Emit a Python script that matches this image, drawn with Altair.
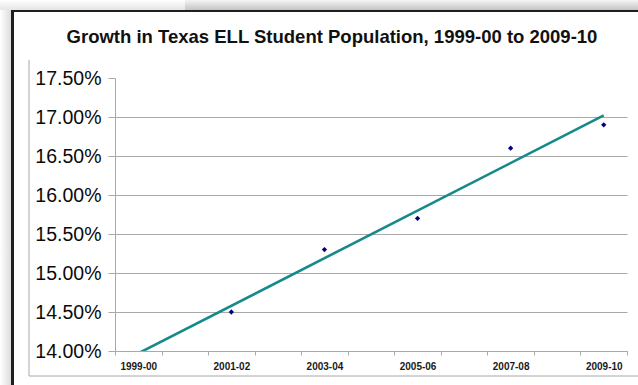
import json
import altair as alt
import pandas as pd

# School years on the category axis
years = ["1999-00", "2000-01", "2001-02", "2002-03", "2003-04", "2004-05",
         "2005-06", "2006-07", "2007-08", "2008-09", "2009-10"]
# Years with a reported ELL share of enrolment
obs_years = ["2001-02", "2003-04", "2005-06", "2007-08", "2009-10"]
ell_share = [0.1450, 0.1530, 0.1570, 0.1660, 0.1690]
# Y axis ticks
y_ticks = [0.14, 0.145, 0.15, 0.155, 0.16, 0.165, 0.17, 0.175]
labelled_years = years[::2]
title_text = "Growth in Texas ELL Student Population, 1999-00 to 2009-10"

df = pd.DataFrame({"year": obs_years, "share": ell_share})

FONT = "Liberation Sans"
GRID = "#a9a9a9"
TEAL = "#16898a"

x_band = alt.X(
    "year:N",
    scale=alt.Scale(type="band", domain=years, paddingInner=0, paddingOuter=0),
    axis=alt.Axis(
        title=None, labelAngle=0, labelOverlap=False, tickBand="extent",
        labelExpr=f"indexof({json.dumps(labelled_years)}, datum.value) >= 0 ? datum.value : ''",
        labelFont=FONT, labelFontSize=10, labelFontWeight="bold", labelColor="#1a1a1a",
        labelPadding=6, tickSize=4, tickColor=GRID, domainColor=GRID, grid=False,
    ),
)

y_enc = alt.Y(
    "share:Q",
    scale=alt.Scale(domain=[0.14, 0.175], nice=False, zero=False),
    axis=alt.Axis(
        title=None, values=y_ticks, format=".2%",
        labelFont=FONT, labelFontSize=19.5, labelColor="#0a0a0a", labelPadding=7,
        tickSize=7, tickColor=GRID, domainColor=GRID,
        grid=True, gridColor=GRID,
        gridOpacity={"condition": {"test": "datum.value >= 0.175", "value": 0}, "value": 1},
    ),
)

points = alt.Chart(df).mark_point(
    shape="diamond", filled=True, size=28, color="#000080", opacity=1
).encode(x=x_band, y=y_enc)

# Least-squares trend over the school-year index, extended back to 1999-00
trend = (
    alt.Chart(df)
    .transform_calculate(t=f"indexof({json.dumps(years)}, datum.year)")
    .transform_regression("t", "share", extent=[0, 10])
    .mark_line(clip=True, color=TEAL, strokeWidth=2.6)
    .encode(
        x=alt.X("t:Q", scale=alt.Scale(domain=[-0.5, 10.5], nice=False, zero=False), axis=None),
        y=y_enc,
    )
)

one = alt.Data(values=[{}])


def grad(stops, horizontal=False):
    return alt.LinearGradient(
        gradient="linear",
        stops=[alt.GradientStop(offset=o, color=c) for o, c in stops],
        x1=0, y1=0, x2=1 if horizontal else 0, y2=0 if horizontal else 1,
    )


# Frame decoration around the chart (offsets relative to the plot origin)
top_shade = alt.Chart(one).mark_rect(
    fill=grad([(0, "#ffffff"), (1, "#e6e6e6")])
).encode(x=alt.value(-115), x2=alt.value(523), y=alt.value(-78), y2=alt.value(-68))
top_shade_dark = alt.Chart(one).mark_rect(
    fill=grad([(0, "#f4f4f4"), (1, "#c4c4c4")])
).encode(x=alt.value(70), x2=alt.value(523), y=alt.value(-78), y2=alt.value(-68))
left_shade = alt.Chart(one).mark_rect(
    fill=grad([(0, "#ffffff"), (1, "#dcdcdc")], horizontal=True)
).encode(x=alt.value(-115), x2=alt.value(-104), y=alt.value(-68), y2=alt.value(307))
border_top = alt.Chart(one).mark_rect(color="#1e1e1e").encode(
    x=alt.value(-104), x2=alt.value(523), y=alt.value(-68), y2=alt.value(-66)
)
border_left = alt.Chart(one).mark_rect(color="#1e1e1e").encode(
    x=alt.value(-104), x2=alt.value(-101), y=alt.value(-68), y2=alt.value(307)
)
area_left = alt.Chart(one).mark_rule(color="#a8a8a8", strokeWidth=1).encode(
    x=alt.value(-86), y=alt.value(-18), y2=alt.value(298)
)
area_bottom = alt.Chart(one).mark_rule(color="#a8a8a8", strokeWidth=1).encode(
    x=alt.value(-86), x2=alt.value(523), y=alt.value(298)
)

# Chart heading, centred over the framed area
heading = alt.Chart(one).mark_text(
    text=title_text, font=FONT, fontSize=18.5, fontWeight="bold", color="#111111",
    align="center", baseline="alphabetic",
).encode(x=alt.value(217), y=alt.value(-35))

chart = (
    alt.layer(
        top_shade, top_shade_dark, left_shade, border_top, border_left,
        area_left, area_bottom, heading, trend, points,
    )
    .resolve_scale(x="independent")
    .properties(
        width=512,
        height=273,
        autosize=alt.AutoSizeParams(type="none"),
        padding={"left": 115, "top": 78, "right": 11, "bottom": 34},
        background="white",
    )
    .configure_view(stroke=None)
)

chart.save("out.html", embed_options={"renderer": "svg", "actions": False})
